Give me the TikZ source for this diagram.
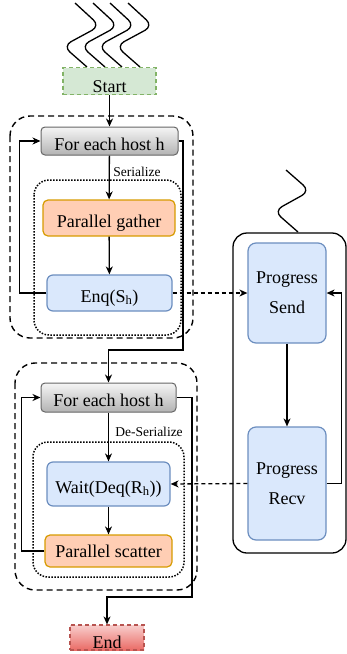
\documentclass[tikz,border=0pt]{standalone}
\usepackage{fontspec}
\setmainfont{Liberation Serif}
\usetikzlibrary{arrows.meta}
\definecolor{startfill}{HTML}{D5E8D4}
\definecolor{startline}{HTML}{82B366}
\definecolor{endtop}{HTML}{F8CECC}
\definecolor{endbot}{HTML}{EA6B66}
\definecolor{endline}{HTML}{B85450}
\definecolor{graytop}{HTML}{F5F5F5}
\definecolor{graybot}{HTML}{B3B3B3}
\definecolor{grayline}{HTML}{666666}
\definecolor{bluefill}{HTML}{DAE8FC}
\definecolor{blueline}{HTML}{6C8EBF}
\definecolor{orangefill}{HTML}{FFCEB4}
\definecolor{orangeline}{HTML}{D79B00}

\begin{document}
\begin{tikzpicture}[x=1pt,y=1pt,
    >={Stealth[length=8pt,width=7pt,inset=2.5pt]},
    bigfont/.style={font=\fontsize{18}{30}\selectfont},
    smallfont/.style={font=\fontsize{13.5}{16}\selectfont},
    lowtext/.style={text height=#1,text depth=0pt},
    hostbox/.style={bigfont,lowtext=18pt,draw=grayline,line width=1pt,rounded corners=4pt,top color=graytop,bottom color=graybot},
    bluebox/.style={bigfont,draw=blueline,fill=bluefill,line width=1.2pt,rounded corners=6pt},
    orangebox/.style={bigfont,draw=orangeline,fill=orangefill,line width=1.2pt,rounded corners=5pt},
    wire/.style={line width=1.3pt},
    squiggle/.style={line width=1.3pt,rounded corners=9pt},
    dashwire/.style={line width=1.3pt,dash pattern=on 4pt off 3pt},
    groupbox/.style={line width=1.4pt,dash pattern=on 6pt off 4pt,rounded corners=20pt},
    innerbox/.style={line width=1.5pt,dash pattern=on 1.5pt off 1.5pt,rounded corners=15pt}]
    \tikzstyle{every node}+=[inner sep=0pt]
    \useasboundingbox (0,0) rectangle (347,-654);
    % squiggles
    \draw [squiggle] (75,-3) -- (100,-26) -- (63,-46) -- (87,-67);
    \draw [squiggle] (93,-3) -- (118,-26) -- (81,-46) -- (105,-67);
    \draw [squiggle] (110,-3) -- (135,-26) -- (98,-46) -- (122,-67);
    \draw [squiggle] (128,-3) -- (153,-26) -- (116,-46) -- (140,-67);
    \draw [squiggle] (286,-170) -- (310,-191) -- (274,-211) -- (298,-232);
    % group boxes
    \draw [groupbox] (10,-116) rectangle (193,-338);
    \draw [innerbox] (34,-180) rectangle (181,-335);
    \draw [groupbox] (15,-363) rectangle (197,-590);
    \draw [innerbox] (33,-442) rectangle (184,-577);
    \draw [wire,rounded corners=14pt] (233,-233) rectangle (346,-553);
    % nodes
    \node (start) [bigfont,lowtext=22pt,draw=startline,fill=startfill,line width=1.2pt,dash pattern=on 4pt off 3pt,minimum width=93pt,minimum height=27pt] at (109.5,-81) {Start};
    \node (fe1) [hostbox,minimum width=137pt,minimum height=28pt] at (109.5,-141) {For each host h};
    \node (gather) [orangebox,lowtext=19pt,minimum width=132pt,minimum height=36pt] at (109,-218) {Parallel gather};
    \node (enq) [bluebox,lowtext=18pt,minimum width=125pt,minimum height=36pt] at (109.5,-293) {Enq(S\textsubscript{h})};
    \node (send) [bluebox,align=center,minimum width=78pt,minimum height=100pt,rounded corners=8pt,yshift=-3pt] at (287,-290) {Progress\\Send};
    \node (recv) [bluebox,align=center,minimum width=78pt,minimum height=113pt,rounded corners=8pt] at (287,-483.5) {Progress\\Recv};
    \node (fe2) [hostbox,minimum width=135pt,minimum height=29pt] at (108.5,-397.5) {For each host h};
    \node (wait) [bluebox,lowtext=18pt,minimum width=123pt,minimum height=44pt] at (108.5,-484) {Wait(Deq(R\textsubscript{h}))};
    \node (scatter) [orangebox,minimum width=127pt,minimum height=32pt] at (108.5,-551) {Parallel scatter};
    \node (end) [bigfont,lowtext=21pt,draw=endline,top color=endtop,bottom color=endbot,line width=1.2pt,dash pattern=on 4pt off 3pt,minimum width=74pt,minimum height=25pt] at (107,-637.5) {End};
    \node (ser) [smallfont] at (137,-172) {Serialize};
    \node (deser) [smallfont] at (149,-432) {De-Serialize};
    % connectors
    \draw [wire,->] (start) -- (fe1);
    \draw [wire,->] (fe1) -- (gather);
    \draw [wire,->] (gather) -- (enq);
    \draw [wire,->] (enq.west) -- ++(-27,0) |- (fe1.west);
    \draw [wire,->] (fe1.east) -| (183,-350) -| (fe2.north);
    \draw [dashwire,->] (enq.east) -- (send.west |- enq.east);
    \draw [wire,->] (send) -- (recv);
    \draw [wire,->] (recv.east) -- ++(15,0) |- (send.east |- enq.east);
    \draw [dashwire,->] (recv.west) -- (wait.east);
    \draw [wire,->] (fe2) -- (wait);
    \draw [wire,->] (wait) -- (scatter);
    \draw [wire,->] (scatter.west) -- ++(-23,0) |- (fe2.west);
    \draw [wire,->] (fe2.east) -| (192,-597) -| (end.north);
\end{tikzpicture}
\end{document}
